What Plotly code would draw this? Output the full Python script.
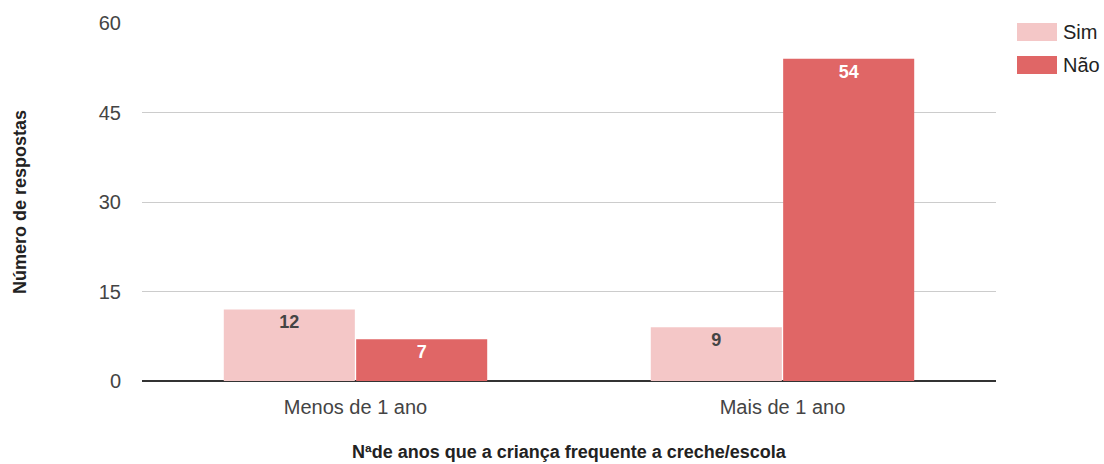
import plotly.graph_objects as go

categories = ["Menos de 1 ano", "Mais de 1 ano"]
sim_values = [12, 9]
nao_values = [7, 54]
series_names = ["Sim", "Não"]
colors = ["#f4c7c7", "#e06666"]
y_ticks = [0, 15, 30, 45, 60]

FONT = "Liberation Sans, Arial, sans-serif"
ML, MR, MT, MB = 142, 108, 23, 83
W, H = 1104, 464
PW, PH = W - ML - MR, H - MT - MB


def px_x(x):
    return (x - ML) / PW


def px_y(y):
    return 1 - (y - MT) / PH


fig = go.Figure()
fig.add_trace(go.Bar(
    x=categories, y=sim_values, name=series_names[0],
    marker=dict(color=colors[0], line=dict(width=0)),
    text=[str(v) for v in sim_values], textposition="inside",
    insidetextanchor="end", textangle=0,
    textfont=dict(family=FONT, size=18, color="#444444", weight="bold"),
    showlegend=False,
))
fig.add_trace(go.Bar(
    x=categories, y=nao_values, name=series_names[1],
    marker=dict(color=colors[1], line=dict(width=0)),
    text=[str(v) for v in nao_values], textposition="inside",
    insidetextanchor="end", textangle=0,
    textfont=dict(family=FONT, size=18, color="#ffffff", weight="bold"),
    showlegend=False,
))

# legend drawn as swatches + labels on the right
for i, (name, col) in enumerate(zip(series_names, colors)):
    top = 23 + i * 33
    fig.add_shape(type="rect", xref="paper", yref="paper",
                  x0=px_x(1017), x1=px_x(1057),
                  y0=px_y(top + 18), y1=px_y(top),
                  fillcolor=col, line=dict(width=0))
    fig.add_annotation(xref="paper", yref="paper",
                       x=px_x(1061), y=px_y(top + 9),
                       text=name, showarrow=False, xanchor="left", yanchor="middle",
                       font=dict(family=FONT, size=20, color="#222222"))

# axis titles
fig.add_annotation(xref="paper", yref="paper", x=px_x(569), y=px_y(452),
                   text="<b>Nªde anos que a criança frequente a creche/escola</b>",
                   showarrow=False, xanchor="center", yanchor="middle",
                   font=dict(family=FONT, size=18, color="#222222"))
fig.add_annotation(xref="paper", yref="paper", x=px_x(20), y=px_y(202),
                   text="<b>Número de respostas</b>", textangle=-90,
                   showarrow=False, xanchor="center", yanchor="middle",
                   font=dict(family=FONT, size=18, color="#222222"))

fig.update_layout(
    width=W, height=H,
    margin=dict(l=ML, r=MR, t=MT, b=MB),
    paper_bgcolor="white", plot_bgcolor="white",
    barmode="group", bargap=0.38, bargroupgap=0.01,
    font=dict(family=FONT, color="#444444"),
    uniformtext=dict(minsize=8, mode="show"),
    xaxis=dict(
        tickfont=dict(size=20, color="#444444"),
        showgrid=False, ticks="", showline=False,
        ticklabelstandoff=12, automargin=False,
    ),
    yaxis=dict(
        range=[0, 60], tickvals=y_ticks,
        tickfont=dict(size=20, color="#444444"),
        gridcolor="#cccccc", gridwidth=1,
        zeroline=True, zerolinecolor="#333333", zerolinewidth=1.5,
        ticks="", ticklabelstandoff=20, automargin=False,
    ),
)

fig.write_html("out.html")
